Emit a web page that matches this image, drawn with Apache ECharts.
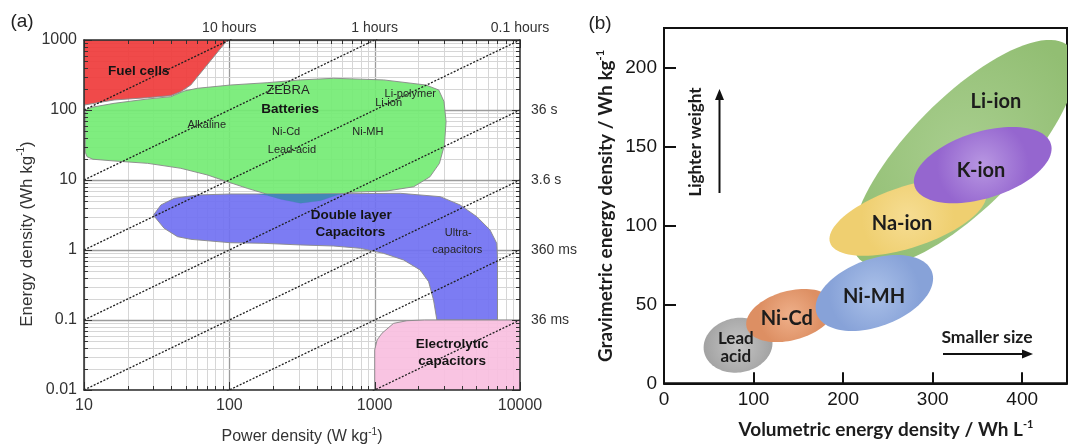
<!DOCTYPE html>
<html><head><meta charset="utf-8">
<script src="https://cdn.jsdelivr.net/npm/echarts@6/dist/echarts.min.js"></script>
<style>html,body{margin:0;padding:0;background:#fff}#c{width:1070px;height:448px}</style>
</head><body><div id="c"></div>
<script>
// ================= Panel (a): Ragone plot data =================
const powerTicks = [10, 100, 1000, 10000];
const powerTickLabels = ['10', '100', '1000', '10000'];
const topTickLabels = ['', '10 hours', '1 hours', '0.1 hours'];
const energyTicks = [0.01, 0.1, 1, 10, 100, 1000];
const energyTickLabels = ['0.01', '0.1', '1', '10', '100', '1000'];
const rightTickLabels = ['', '36 ms', '360 ms', '3.6 s', '36 s', ''];
// characteristic times (hours): E = P * t
const timeConstants = [10, 1, 0.1, 0.01, 0.001, 0.0001, 0.00001];

// region outlines [power W/kg, energy Wh/kg]
const fuelCells = [[10,1000],[97,1000],[54.3,227.5],[46.3,182.8],[39.5,160.3],[27.4,150],[16.1,139],[10,117.5]];
const batteries = [[10.2,90],[10.5,104],[11.5,110],[16.1,124.5],[27.4,143.6],[39.5,154.9],[48.9,186.6],[60.3,204.2],[102,227.5],[182,245.5],[309,269],[522,283.8],[1153,269],[2250,227.5],[2760,193.2],[3000,131.8],[3100,68.1],[3020,31.6],[2790,17.3],[2400,11.1],[1854,8.0],[1216,6.97],[681,6.67],[552,6.11],[424,5.07],[309,4.65],[225,5.30],[173,6.46],[133,7.60],[96.8,9.46],[70.6,11.8],[46.3,14.7],[27.4,17.3],[16.1,18.7],[11.5,19.8],[10.5,21.5],[10.2,25]];
const overlapZone = [[155,6.31],[182,6.03],[225,5.30],[309,4.65],[424,5.07],[552,6.11],[589,6.31]];
const capacitors = [[30.1,3.16],[33.8,4.40],[41.7,5.47],[60.3,6.11],[102,6.31],[309,6.31],[1500,6.46],[2825,5.78],[3873,4.40],[5047,2.99],[6223,1.93],[6918,1.245],[7000,0.80],[7000,0.1],[2679,0.1],[2541,0.193],[2350,0.353],[2056,0.518],[1581,0.72],[1153,0.895],[798,1.057],[522,1.14],[309,1.18],[173,1.245],[102,1.27],[54.3,1.42],[44,1.55],[35.6,2.04],[31,2.9]];
const electrolytic = [[1000,0.005],[1000,0.0372],[1040,0.052],[1122,0.0646],[1349,0.0895],[1667,0.0977],[2200,0.1],[12000,0.1],[12000,0.005]];

const regionLabelText = ['Fuel cells','ZEBRA','Batteries','Alkaline','Ni-Cd','Lead-acid','Li-polymer','Li-ion','Ni-MH','Double layer','Capacitors','Ultra-','capacitors','Electrolytic','capacitors'];
const regionLabelP = [23.8, 253, 262, 70, 246, 270, 1758, 1247, 898, 690, 680, 3758, 3700, 3412, 3412];
const regionLabelE = [360, 193, 103, 61, 49, 26.8, 167, 125, 49, 3.16, 1.77, 1.73, 1.0, 0.0454, 0.0254];

// ================= Panel (b): energy density ellipses =================
const cellNames = ['Li-ion','Na-ion','K-ion','Lead\nacid','Ni-Cd','Ni-MH'];
const centerVol = [335.3, 272.4, 355.9, 82.7, 141.2, 234.9];   // Wh/L
const centerGrav = [145.9, 105.3, 138.2, 24.1, 42.9, 57.2];    // Wh/kg
const majorEndVol = [452.3, 359.4, 432.0, 120.8, 190.1, 299.2];
const majorEndGrav = [213.2, 121.5, 151.6, 27.9, 50.4, 70.6];
const minorRatio = [0.367, 0.373, 0.466, 0.786, 0.543, 0.548];
const cellLabelVol = [370.6, 265.8, 354, 80.2, 137.1, 234.6];
const cellLabelGrav = [178.2, 101.3, 135, 22.7, 41.1, 54.8];
const volTicks = [0, 100, 200, 300, 400];
const gravTicks = [0, 50, 100, 150, 200];

// ================= styles =================
const FA = 'Liberation Sans';
const FB = 'Lato';
const regionList = [fuelCells, batteries, capacitors, overlapZone, electrolytic];
const regionFill = ['#ef3b3b', '#74ec74', '#7171f2', '#3f88b3', '#f8bfdf'];
const regionStroke = ['#8a8a8a', '#8a8a8a', '#8a8a8a', 'none', '#8a8a8a'];
const labelBold = [1,0,1,0,0,0,0,0,0,1,1,0,0,1,1];
const labelSize = [13.5,13,13.5,11,11,11,11,11,11,13.5,13.5,11,11,13.5,13.5];
const cellLight = ['#a8ce8e','#f6dd93','#b897e2','#c6c6c6','#efb08a','#abc1e9'];
const cellDark = ['#92be73','#efcf70','#9566cf','#a3a3a3','#dd8f63','#87a2d8'];

function near(v, t){ return Math.abs(Math.log10(v) - Math.log10(t)) < 1e-6; }
function logIdx(list, v){ for (let i = 0; i < list.length; i++) if (near(v, list[i])) return i; return -1; }
function minorValues(lo, hi){
  const out = [];
  for (let d = lo; d < hi * 0.999; d = +(d * 10).toPrecision(6)) {
    for (let k = 1; k < 10; k++) out.push({v: +(d * k).toPrecision(6), major: k === 1});
  }
  out.push({v: hi, major: true});
  return out;
}
const pGrid = minorValues(10, 10000);
const eGrid = minorValues(0.01, 1000);

const chart = echarts.init(document.getElementById('c'));

const series = [];
// grid lines (a)
series.push({
  type: 'custom', xAxisIndex: 0, yAxisIndex: 0, z: 1, silent: true, clip: true,
  data: [[10, 1]],
  renderItem(params, api){
    const ch = [];
    const yb = api.coord([10, 0.01])[1], yt = api.coord([10, 1000])[1];
    const xl = api.coord([10, 1])[0], xr = api.coord([10000, 1])[0];
    pGrid.forEach(g => { const x = Math.round(api.coord([g.v, 1])[0]) + 0.5;
      ch.push({type: 'line', shape: {x1: x, y1: yb, x2: x, y2: yt}, style: {stroke: g.major ? '#9c9c9c' : '#d6d6d6', lineWidth: g.major ? 1.3 : 1}}); });
    eGrid.forEach(g => { const y = Math.round(api.coord([10, g.v])[1]) + 0.5;
      ch.push({type: 'line', shape: {x1: xl, y1: y, x2: xr, y2: y}, style: {stroke: g.major ? '#9c9c9c' : '#d6d6d6', lineWidth: g.major ? 1.3 : 1}}); });
    return {type: 'group', children: ch};
  }
});
// regions (a)
series.push({
  type: 'custom', xAxisIndex: 0, yAxisIndex: 0, z: 2, silent: true, clip: true,
  data: regionList.map((r, i) => [10, 1, i]),
  renderItem(params, api){
    const i = api.value(2);
    const pts = regionList[i].map(p => api.coord(p));
    return {type: 'polygon', shape: {points: pts},
      style: {fill: regionFill[i], stroke: regionStroke[i], lineWidth: 1, opacity: 0.92}};
  }
});
// characteristic time lines (a)
timeConstants.forEach(t => {
  series.push({
    type: 'line', xAxisIndex: 0, yAxisIndex: 0, z: 3, silent: true, clip: true,
    showSymbol: false, symbol: 'none',
    data: [[10, 10 * t], [10000, 10000 * t]],
    lineStyle: {color: '#1e1e1e', width: 1.3, type: [2, 1.6]}
  });
});
// ticks (a)
series.push({
  type: 'custom', xAxisIndex: 0, yAxisIndex: 0, z: 4, silent: true, clip: false,
  data: [[10, 1]],
  renderItem(params, api){
    const ch = [];
    const yb = api.coord([10, 0.01])[1], yt = api.coord([10, 1000])[1];
    const xl = api.coord([10, 1])[0], xr = api.coord([10000, 1])[0];
    const st = {stroke: '#333', lineWidth: 1};
    pGrid.forEach(g => { const x = Math.round(api.coord([g.v, 1])[0]) + 0.5; const L = g.major ? 8 : 4;
      ch.push({type: 'line', shape: {x1: x, y1: yb, x2: x, y2: yb - L}, style: st});
      ch.push({type: 'line', shape: {x1: x, y1: yt, x2: x, y2: yt + L}, style: st}); });
    eGrid.forEach(g => { const y = Math.round(api.coord([10, g.v])[1]) + 0.5; const L = g.major ? 8 : 4;
      ch.push({type: 'line', shape: {x1: xl, y1: y, x2: xl + L, y2: y}, style: st});
      ch.push({type: 'line', shape: {x1: xr, y1: y, x2: xr - L, y2: y}, style: st}); });
    return {type: 'group', children: ch};
  }
});
// region labels (a)
series.push({
  type: 'custom', xAxisIndex: 0, yAxisIndex: 0, z: 5, silent: true, clip: false,
  data: regionLabelText.map((t, i) => [regionLabelP[i], regionLabelE[i], i]),
  renderItem(params, api){
    const i = api.value(2);
    const pt = api.coord([api.value(0), api.value(1)]);
    return {type: 'text', x: pt[0], y: pt[1],
      style: {text: regionLabelText[i], fill: labelBold[i] ? '#151515' : '#262626', fontFamily: FA,
        fontSize: labelSize[i], fontWeight: labelBold[i] ? 'bold' : 'normal', align: 'center', verticalAlign: 'middle'}};
  }
});
// ellipses (b)
series.push({
  type: 'custom', xAxisIndex: 2, yAxisIndex: 2, z: 2, silent: true, clip: true,
  data: cellNames.map((n, i) => [centerVol[i], centerGrav[i], i]),
  renderItem(params, api){
    const i = api.value(2);
    const c = api.coord([centerVol[i], centerGrav[i]]);
    const e = api.coord([majorEndVol[i], majorEndGrav[i]]);
    const dx = e[0] - c[0], dy = e[1] - c[1];
    const a = Math.hypot(dx, dy), b = a * minorRatio[i];
    const ca = dx / a, sa = dy / a;
    const pts = [];
    for (let k = 0; k < 96; k++) {
      const t = k / 96 * Math.PI * 2;
      const u = a * Math.cos(t), v = b * Math.sin(t);
      pts.push([c[0] + u * ca - v * sa, c[1] + u * sa + v * ca]);
    }
    return {type: 'polygon', shape: {points: pts},
      style: {fill: new echarts.graphic.RadialGradient(0.5, 0.5, 0.6, [
        {offset: 0, color: cellLight[i]}, {offset: 1, color: cellDark[i]}])}};
  }
});
// ellipse labels (b)
series.push({
  type: 'custom', xAxisIndex: 2, yAxisIndex: 2, z: 3, silent: true, clip: false,
  data: cellNames.map((n, i) => [cellLabelVol[i], cellLabelGrav[i], i]),
  renderItem(params, api){
    const i = api.value(2);
    const pt = api.coord([api.value(0), api.value(1)]);
    const lead = cellNames[i].indexOf('\n') >= 0;
    return {type: 'text', x: pt[0], y: pt[1],
      style: {text: cellNames[i], fill: '#1c1c1c', fontFamily: FB, fontWeight: 'bold',
        fontSize: lead ? 17 : 20, lineHeight: lead ? 18 : 22, align: 'center', verticalAlign: 'middle'}};
  }
});

const axisA = {lineStyle: {color: '#2a2a2a', width: 1.5}};
const supRich = (size, color, weight, fam) => ({
  n: {fontSize: size, fontFamily: fam, fill: color, color: color, fontWeight: weight, lineHeight: size + 4},
  s: {fontSize: Math.round(size * 0.6), fontFamily: fam, fill: color, color: color, fontWeight: weight, verticalAlign: 'top', lineHeight: size + 4}
});

const option = {
  animation: false,
  backgroundColor: '#fff',
  grid: [
    {left: 84, right: 550, top: 40, bottom: 58, show: false},
    {left: 664, right: -2, top: 28, bottom: 64.7, show: true, borderColor: '#111', borderWidth: 2}
  ],
  xAxis: [
    {type: 'log', gridIndex: 0, min: 10, max: 10000, position: 'bottom', z: 10,
      axisLine: {show: true, onZero: false, ...axisA}, axisTick: {show: false}, splitLine: {show: false},
      axisLabel: {margin: 8, fontSize: 16, color: '#333', fontFamily: FA,
        formatter: v => { const i = logIdx(powerTicks, v); return i < 0 ? '' : powerTickLabels[i]; }}},
    {type: 'log', gridIndex: 0, min: 10, max: 10000, position: 'top', z: 10,
      axisLine: {show: true, onZero: false, ...axisA}, axisTick: {show: false}, splitLine: {show: false},
      axisLabel: {margin: 5, fontSize: 14, color: '#333', fontFamily: FA,
        formatter: v => { const i = logIdx(powerTicks, v); return i < 0 ? '' : topTickLabels[i]; }}},
    {type: 'value', gridIndex: 1, min: 0, max: 450, interval: 100, z: 10,
      axisLine: {show: true, onZero: false, lineStyle: {color: '#111', width: 2}},
      axisTick: {show: true, inside: true, length: 11, lineStyle: {color: '#111', width: 2}},
      splitLine: {show: false},
      axisLabel: {margin: 7, fontSize: 19, color: '#151515', fontFamily: FA,
        formatter: v => volTicks.indexOf(v) >= 0 ? String(v) : ''}}
  ],
  yAxis: [
    {type: 'log', gridIndex: 0, min: 0.01, max: 1000, position: 'left', z: 10,
      axisLine: {show: true, onZero: false, ...axisA}, axisTick: {show: false}, splitLine: {show: false},
      axisLabel: {margin: 7, fontSize: 16, color: '#333', fontFamily: FA,
        formatter: v => { const i = logIdx(energyTicks, v); return i < 0 ? '' : energyTickLabels[i]; }}},
    {type: 'log', gridIndex: 0, min: 0.01, max: 1000, position: 'right', z: 10,
      axisLine: {show: true, onZero: false, ...axisA}, axisTick: {show: false}, splitLine: {show: false},
      axisLabel: {margin: 11, fontSize: 14, color: '#333', fontFamily: FA,
        formatter: v => { const i = logIdx(energyTicks, v); return i < 0 ? '' : rightTickLabels[i]; }}},
    {type: 'value', gridIndex: 1, min: 0, max: 225, interval: 50, z: 10,
      axisLine: {show: true, onZero: false, lineStyle: {color: '#111', width: 2}},
      axisTick: {show: true, inside: true, length: 12, lineStyle: {color: '#111', width: 2}},
      splitLine: {show: false},
      axisLabel: {margin: 7, fontSize: 19, color: '#151515', fontFamily: FA,
        formatter: v => gravTicks.indexOf(v) >= 0 ? String(v) : ''}}
  ],
  graphic: [
    {type: 'text', x: 22, y: 22, style: {text: '(a)', fontSize: 19, fontFamily: FA, fill: '#222', align: 'center', verticalAlign: 'middle'}},
    {type: 'text', x: 600, y: 24, style: {text: '(b)', fontSize: 19, fontFamily: FA, fill: '#222', align: 'center', verticalAlign: 'middle'}},
    {type: 'text', x: 302, y: 437, style: {text: '{n|Power density (W kg}{s|-1}{n|)}', rich: supRich(16, '#333', 'normal', FA), align: 'center', verticalAlign: 'middle'}},
    {type: 'text', x: 27, y: 234, rotation: Math.PI / 2, style: {text: '{n|Energy density (Wh kg}{s|-1}{n|)}', rich: supRich(17, '#333', 'normal', FA), align: 'center', verticalAlign: 'middle'}},
    {type: 'text', x: 886, y: 430, style: {text: '{n|Volumetric energy density / Wh L}{s|-1}', rich: supRich(19, '#1c1c1c', 'bold', FB), align: 'center', verticalAlign: 'middle'}},
    {type: 'text', x: 606, y: 206, rotation: Math.PI / 2, style: {text: '{n|Gravimetric energy density / Wh kg}{s|-1}', rich: supRich(19, '#1c1c1c', 'bold', FB), align: 'center', verticalAlign: 'middle'}},
    {type: 'text', x: 696, y: 142, rotation: Math.PI / 2, style: {text: 'Lighter weight', fontSize: 17, fontWeight: 'bold', fontFamily: FB, fill: '#1c1c1c', align: 'center', verticalAlign: 'middle'}},
    {type: 'line', shape: {x1: 719.5, y1: 193, x2: 719.5, y2: 98}, style: {stroke: '#111', lineWidth: 2}},
    {type: 'polygon', shape: {points: [[715, 100], [724, 100], [719.5, 89]]}, style: {fill: '#111'}},
    {type: 'text', x: 987, y: 337, style: {text: 'Smaller size', fontSize: 17.5, fontWeight: 'bold', fontFamily: FB, fill: '#1c1c1c', align: 'center', verticalAlign: 'middle'}},
    {type: 'line', shape: {x1: 943, y1: 354, x2: 1024, y2: 354}, style: {stroke: '#111', lineWidth: 2}},
    {type: 'polygon', shape: {points: [[1022, 349.5], [1022, 358.5], [1033, 354]]}, style: {fill: '#111'}}
  ],
  series: series
};
chart.setOption(option);
</script></body></html>
